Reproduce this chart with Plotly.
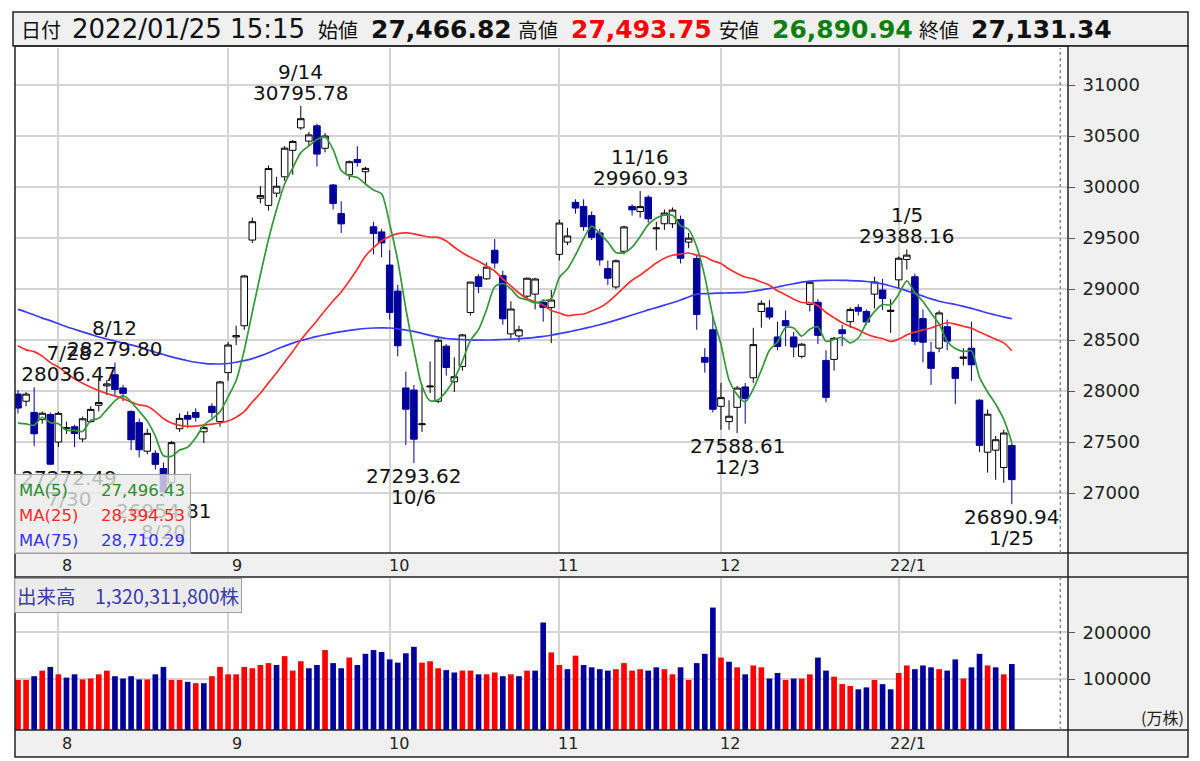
import plotly.graph_objects as go
import pandas as pd

# ---------------- data ----------------
dates = ["2021-07-26", "2021-07-27", "2021-07-28", "2021-07-29", "2021-07-30",
         "2021-08-02", "2021-08-03", "2021-08-04", "2021-08-05", "2021-08-06", "2021-08-10", "2021-08-11",
         "2021-08-12", "2021-08-13", "2021-08-16", "2021-08-17", "2021-08-18", "2021-08-19", "2021-08-20",
         "2021-08-23", "2021-08-24", "2021-08-25", "2021-08-26", "2021-08-27", "2021-08-30", "2021-08-31",
         "2021-09-01", "2021-09-02", "2021-09-03", "2021-09-06", "2021-09-07", "2021-09-08", "2021-09-09",
         "2021-09-10", "2021-09-13", "2021-09-14", "2021-09-15", "2021-09-16", "2021-09-17", "2021-09-21",
         "2021-09-22", "2021-09-24", "2021-09-27", "2021-09-28", "2021-09-29", "2021-09-30",
         "2021-10-01", "2021-10-04", "2021-10-05", "2021-10-06", "2021-10-07", "2021-10-08", "2021-10-11",
         "2021-10-12", "2021-10-13", "2021-10-14", "2021-10-15", "2021-10-18", "2021-10-19", "2021-10-20",
         "2021-10-21", "2021-10-22", "2021-10-25", "2021-10-26", "2021-10-27", "2021-10-28", "2021-10-29",
         "2021-11-01", "2021-11-02", "2021-11-04", "2021-11-05", "2021-11-08", "2021-11-09", "2021-11-10",
         "2021-11-11", "2021-11-12", "2021-11-15", "2021-11-16", "2021-11-17", "2021-11-18", "2021-11-19",
         "2021-11-22", "2021-11-24", "2021-11-25", "2021-11-26", "2021-11-29", "2021-11-30",
         "2021-12-01", "2021-12-02", "2021-12-03", "2021-12-06", "2021-12-07", "2021-12-08", "2021-12-09",
         "2021-12-10", "2021-12-13", "2021-12-14", "2021-12-15", "2021-12-16", "2021-12-17", "2021-12-20",
         "2021-12-21", "2021-12-22", "2021-12-23", "2021-12-24", "2021-12-27", "2021-12-28", "2021-12-29",
         "2021-12-30",
         "2022-01-04", "2022-01-05", "2022-01-06", "2022-01-07", "2022-01-11", "2022-01-12", "2022-01-13",
         "2022-01-14", "2022-01-17", "2022-01-18", "2022-01-19", "2022-01-20", "2022-01-21", "2022-01-24",
         "2022-01-25"]

opens = [27970, 27900, 27790, 27720, 27770,
         27500, 27630, 27650, 27530, 27700, 27860, 28050, 28160, 28030, 27800, 27690, 27410, 27390, 27240,
         27100, 27630, 27760, 27790, 27600, 27850, 27700,
         28180, 28530, 28640, 29480, 29890, 29820, 29940, 30100, 30360, 30580, 30450, 30600, 30380, 30020,
         29740, 30120, 30270, 30150, 29610, 29560,
         29235, 28980, 28030, 28010, 27670, 28040, 27900, 28440, 28090, 28240, 28770, 29120, 29100, 29380,
         29130, 28560, 28540, 28930, 28950, 28870, 28820,
         29340, 29460, 29850, 29810, 29720, 29550, 29200, 29020, 29370, 29810, 29760, 29900, 29590, 29640,
         29640, 29680, 29460, 29300, 28330, 28600,
         27850, 27700, 27840, 28040, 28130, 28780, 28815, 28530, 28690, 28530, 28340, 28850, 28870, 28300,
         28310, 28600, 28680, 28820, 28780, 28950, 28990, 28780,
         29090, 29290, 29120, 28710, 28380, 28420, 28630, 28230, 28320, 28420, 27910, 27400, 27420, 27250,
         27466.82]

highs = [28010, 27990, 28036.47, 27800, 27790,
         27800, 27700, 27670, 27750, 27850, 28130, 28110, 28279.80, 28060, 27810, 27730, 27630, 27420, 27300,
         27510, 27780, 27800, 27830, 27660, 27880, 28100,
         28480, 28640, 29140, 29700, 30010, 30210, 30100, 30400, 30460, 30795.78, 30540, 30620, 30530, 30030,
         29860, 30260, 30400, 30200, 29660, 29590,
         29380, 29040, 28190, 28060, 28060, 28290, 28520, 28460, 28330, 28560, 29070, 29145, 29260, 29490,
         29180, 28880, 28640, 29110, 29110, 28900, 28990,
         29680, 29600, 29880, 29880, 29760, 29590, 29280, 29290, 29620, 29830, 29960.93, 29920, 29660, 29780,
         29800, 29720, 29550, 29330, 28420, 28730,
         28080, 27910, 28050, 28080, 28620, 28890, 28890, 28680, 28790, 28580, 28470, 29070, 28900, 28400,
         28530, 28650, 28820, 28850, 28800, 29120, 29100, 28900,
         29320, 29388.16, 29150, 28800, 28480, 28790, 28700, 28240, 28420, 28680, 27920, 27820, 27560, 27620,
         27493.75]

lows = [27780, 27850, 27460, 27680, 27272.49,
        27450, 27580, 27450, 27500, 27690, 27800, 27960, 27960, 27900, 27420, 27350, 27380, 27230, 26954.81,
        27050, 27600, 27640, 27700, 27490, 27740, 27650,
        28100, 28450, 28600, 29450, 29840, 29770, 29900, 30060, 30120, 30560, 30400, 30200, 30340, 29780,
        29550, 30070, 30200, 30020, 29340, 29310,
        28700, 28340, 27470, 27293.62, 27600, 27980, 27880, 28150, 27990, 28200, 28740, 28960, 29090, 29200,
        28650, 28520, 28480, 28900, 28800, 28680, 28470,
        29280, 29430, 29740, 29570, 29480, 29230, 29040, 29000, 29340, 29720, 29700, 29650, 29380, 29580,
        29600, 29250, 29400, 28600, 28180, 27790,
        27620, 27620, 27588.61, 27680, 28080, 28620, 28700, 28400, 28440, 28330, 28320, 28780, 28460, 27890,
        28200, 28440, 28620, 28740, 28650, 28810, 28795, 28570,
        29000, 29190, 28450, 28280, 28060, 28380, 28400, 27870, 28250, 28100, 27400, 27200, 27130, 27100,
        26890.94]

closes = [27833, 27970, 27581, 27782, 27283,
          27781, 27641, 27584, 27728, 27820, 27888, 28070, 28015, 27977, 27523, 27424, 27585, 27281, 27013,
          27494, 27732, 27724, 27742, 27641, 27789, 28089,
          28451, 28543, 29128, 29660, 29916, 30181, 30008, 30381, 30447, 30670, 30511, 30323, 30500, 29839,
          29639, 30248, 30240, 30183, 29544, 29452,
          28771, 28444, 27822, 27528, 27678, 28048, 28498, 28230, 28140, 28550, 29068, 29025, 29215, 29255,
          28708, 28804, 28600, 29106, 29098, 28820, 28892,
          29647, 29520, 29794, 29611, 29507, 29285, 29106, 29277, 29609, 29776, 29808, 29688, 29598, 29745,
          29774, 29302, 29499, 28751, 28283, 27821,
          27935, 27753, 28029, 27927, 28455, 28860, 28725, 28437, 28640, 28432, 28459, 29066, 28545.68, 27937.81,
          28517.59, 28562.21, 28798.37, 28782.59, 28676.46, 29069.16, 28906.88, 28791.71,
          29301.79, 29332.16, 28487.87, 28478.56, 28222.48, 28765.66, 28489.13, 28124.28, 28333.52, 28257.25,
          27467.23, 27772.93, 27522.26, 27588.37, 27131.34]

# closes of the 24 sessions before the first visible day (needed for MA(5)/MA(25) and the first volume colour)
closes_before = [28964, 28010, 28884, 28874, 28875, 29066, 29048, 28812, 28792, 28707, 28783, 28598,
                 28643, 28366, 28118, 27940, 28569, 28718, 28608, 28279, 28003, 27652, 27388, 27548]

# MA(75)
ma75 = [28800, 28775, 28745, 28715, 28690,
        28660, 28630, 28605, 28580, 28555, 28530, 28510, 28490, 28470, 28452, 28430, 28405, 28380, 28358,
        28335, 28315, 28297, 28282, 28272, 28266, 28265,
        28270, 28282, 28298, 28318, 28345, 28375, 28410, 28440, 28470, 28495, 28515, 28535, 28552, 28568,
        28582, 28595, 28605, 28613, 28618, 28620,
        28618, 28610, 28598, 28585, 28565, 28545, 28528, 28515, 28508, 28503, 28500, 28500, 28500, 28502,
        28505, 28508, 28512, 28518, 28526, 28535, 28548,
        28562, 28578, 28594, 28612, 28630, 28650, 28672, 28695, 28720, 28745, 28770, 28795, 28818, 28842,
        28865, 28892, 28922, 28950, 28955, 28958,
        28960, 28962, 28964, 28968, 28978, 28992, 29005, 29020, 29037, 29052, 29067, 29078, 29083, 29085,
        29086, 29085, 29083, 29080, 29074, 29065, 29050, 29030,
        29008, 28982, 28957, 28930, 28903, 28880, 28863, 28848, 28830, 28810, 28788, 28765, 28745, 28725,
        28710.29]

# volume in 10,000 shares (万株)
volume = [98000, 98000, 106000, 118000, 126000,
          110000, 103000, 110000, 99000, 101000, 110000, 118000, 106000, 101000, 106000, 99000, 99000, 110000,
          126000, 98000, 98000, 94000, 91000, 91000, 106000, 126000,
          110000, 110000, 126000, 123000, 130000, 134000, 130000, 149000, 118000, 138000, 123000, 130000,
          162000, 134000, 123000, 146000, 130000, 154000, 162000, 158000,
          142000, 135000, 155000, 169000, 135000, 138000, 123000, 119000, 114000, 118000, 118000, 110000,
          110000, 114000, 106000, 110000, 106000, 118000, 118000, 221000, 157000,
          130000, 121000, 150000, 130000, 125000, 121000, 118000, 121000, 134000, 118000, 121000, 118000,
          125000, 121000, 110000, 125000, 98000, 134000, 154000, 253000,
          146000, 137000, 125000, 110000, 129000, 125000, 101000, 113000, 98000, 101000, 101000, 110000,
          146000, 118000, 105000, 89000, 85000, 78000, 82000, 98000, 89000, 78000,
          113000, 129000, 121000, 129000, 125000, 121000, 118000, 142000, 101000, 125000, 154000, 129000,
          125000, 110000, 132031.18]

price_ticks = [27000, 27500, 28000, 28500, 29000, 29500, 30000, 30500, 31000]
volume_ticks = [100000, 200000]
high_label_dates = ["2021-07-28", "2021-08-12", "2021-09-14", "2021-11-16", "2022-01-05"]
low_label_dates = ["2021-07-30", "2021-08-20", "2021-10-06", "2021-12-03", "2022-01-25"]
time_text = "15:15"

# ---------------- derived ----------------
n = len(dates)
idx = list(range(n))
all_closes = closes_before + closes
ser = pd.Series(all_closes, dtype=float)
ma5 = ser.rolling(5).mean().tolist()[-n:]
ma25 = ser.rolling(25).mean().tolist()[-n:]
prev_closes = all_closes[len(closes_before) - 1:-1]

NAVY = "#00009a"
RED = "#ff0000"
vol_colors = [RED if c > p else NAVY for c, p in zip(closes, prev_closes)]

# ---------------- layout geometry ----------------
W, H = 1200, 761
PL, PR, RIGHT = 15, 1068, 1188
P_TOP, P_BOT = 48, 553
V_TOP, V_BOT = 578, 730
X_MIN, X_MAX = -0.37, 129.95
Y_RANGE = [26412, 31363]
V_RANGE = [-9200, 316300]
GRID = "#d4d4d4"
PANEL = "#f0f0f0"


def fx(p):
    return p / W


def fy(p):
    return 1 - p / H


fig = go.Figure()

fig.add_trace(go.Candlestick(
    x=idx, open=opens, high=highs, low=lows, close=closes,
    increasing=dict(line=dict(color="black", width=1), fillcolor="white"),
    decreasing=dict(line=dict(color=NAVY, width=1), fillcolor=NAVY),
    whiskerwidth=0, xaxis="x", yaxis="y", showlegend=False, hoverinfo="skip"))

for vals, col in ((ma75, "#3b3bff"), (ma25, "#ff3030"), (ma5, "#35963a")):
    fig.add_trace(go.Scatter(x=idx, y=vals, mode="lines",
                             line=dict(color=col, width=1.7, shape="spline", smoothing=0.7),
                             xaxis="x", yaxis="y", showlegend=False, hoverinfo="skip"))

fig.add_trace(go.Bar(x=idx, y=[v - V_RANGE[0] for v in volume], base=V_RANGE[0],
                     marker=dict(color=vol_colors, line=dict(width=0)), width=0.7,
                     xaxis="x2", yaxis="y2", showlegend=False, hoverinfo="skip"))

month_idx = [i for i in range(1, n) if dates[i][5:7] != dates[i - 1][5:7]]


def month_text(d):
    m = int(d[5:7])
    return f"{d[2:4]}/{m}" if m == 1 else str(m)


axis_font = dict(family="DejaVu Sans", size=18, color="#222")
common_x = dict(range=[X_MIN, X_MAX], tickvals=month_idx, showticklabels=False, showgrid=True,
                gridcolor=GRID, gridwidth=1.5, zeroline=False, ticks="", showline=False)

fig.update_layout(
    width=W, height=H, margin=dict(l=0, r=0, t=0, b=0),
    paper_bgcolor="white", plot_bgcolor="white", showlegend=False,
    boxgap=0.1, boxgroupgap=0.1,
    xaxis=dict(domain=[fx(PL), fx(PR)], anchor="y", rangeslider=dict(visible=False), **common_x),
    xaxis2=dict(domain=[fx(PL), fx(PR)], anchor="y2", matches="x", **common_x),
    yaxis=dict(domain=[fy(P_BOT), fy(P_TOP)], range=Y_RANGE, side="right", anchor="x",
               tickvals=price_ticks, ticktext=[str(t) for t in price_ticks], showgrid=True,
               gridcolor=GRID, gridwidth=1.5, zeroline=False, ticks="outside", ticklen=6,
               tickcolor="#555", tickfont=axis_font, ticklabelstandoff=4, showline=False),
    yaxis2=dict(domain=[fy(V_BOT), fy(V_TOP)], range=V_RANGE, side="right", anchor="x2",
                tickvals=volume_ticks, ticktext=[str(t) for t in volume_ticks], showgrid=True,
                gridcolor=GRID, gridwidth=1.5, zeroline=False, ticks="outside", ticklen=6,
                tickcolor="#555", tickfont=axis_font, ticklabelstandoff=4, showline=False),
)

# ---------------- frame shapes ----------------
LINE = dict(color="#222", width=1.5)
shapes = [
    dict(type="rect", xref="paper", yref="paper", x0=fx(13), x1=fx(RIGHT), y0=fy(46), y1=fy(12),
         fillcolor=PANEL, line=LINE, layer="below"),
    dict(type="rect", xref="paper", yref="paper", x0=fx(PR), x1=fx(RIGHT), y0=fy(P_BOT), y1=fy(46),
         fillcolor=PANEL, line=dict(width=0), layer="below"),
    dict(type="rect", xref="paper", yref="paper", x0=fx(PR), x1=fx(RIGHT), y0=fy(V_BOT), y1=fy(577),
         fillcolor=PANEL, line=dict(width=0), layer="below"),
    dict(type="rect", xref="paper", yref="paper", x0=fx(PL), x1=fx(RIGHT), y0=fy(577), y1=fy(P_BOT),
         fillcolor=PANEL, line=dict(width=0), layer="below"),
    dict(type="rect", xref="paper", yref="paper", x0=fx(PL), x1=fx(RIGHT), y0=fy(757), y1=fy(V_BOT),
         fillcolor=PANEL, line=dict(width=0), layer="below"),
    dict(type="rect", xref="paper", yref="paper", x0=fx(PL), x1=fx(RIGHT), y0=fy(757), y1=fy(46),
         fillcolor="rgba(0,0,0,0)", line=LINE, layer="above"),
    dict(type="line", xref="paper", yref="paper", x0=fx(PR), x1=fx(PR), y0=fy(757), y1=fy(46),
         line=LINE, layer="above"),
]
for yy in (P_BOT, 577, V_BOT):
    shapes.append(dict(type="line", xref="paper", yref="paper", x0=fx(PL), x1=fx(RIGHT),
                       y0=fy(yy), y1=fy(yy), line=LINE, layer="above"))
future = n + 5
for xr, yr in (("x", "y domain"), ("x2", "y2 domain")):
    shapes.append(dict(type="line", xref=xr, yref=yr, x0=future, x1=future, y0=0, y1=1,
                       line=dict(color="#8a8a8a", width=1.5, dash="dot"), layer="above"))
fig.update_layout(shapes=shapes)

# ---------------- annotations ----------------
ann = []
mfont = dict(family="DejaVu Sans", size=16, color="#222")
for i in month_idx:
    for ycen in (565, 743):
        ann.append(dict(x=i, xref="x", y=fy(ycen), yref="paper", text=month_text(dates[i]),
                        showarrow=False, xanchor="center", yanchor="middle", xshift=9, font=mfont))

LBL_FONT = dict(family="DejaVu Sans", size=20, color="#111")


def add_extreme(date_str, value, above):
    i = dates.index(date_str)
    mm, dd = int(date_str[5:7]), int(date_str[8:10])
    s = 1 if above else -1
    lines = [(f"{mm}/{dd}", 34 * s), (f"{value:.2f}", 13 * s)]
    px = PL + (i - X_MIN) / (X_MAX - X_MIN) * (PR - PL)
    clamp = px - 52 < PL
    for txt, sh in lines:
        a = dict(text=txt, y=value, yref="y", yshift=sh, showarrow=False, font=LBL_FONT,
                 yanchor="middle")
        if clamp:
            a.update(x=fx(PL), xref="paper", xanchor="left", width=104, align="center")
        else:
            a.update(x=i, xref="x", xanchor="center")
        ann.append(a)


for d in high_label_dates:
    add_extreme(d, highs[dates.index(d)], True)
for d in low_label_dates:
    add_extreme(d, lows[dates.index(d)], False)

# MA legend box (semi-transparent, drawn over the labels)
ann.append(dict(x=fx(14), y=fy(474), xref="paper", yref="paper", xanchor="left", yanchor="top",
                text=" ", width=175, height=78, showarrow=False, bgcolor="rgba(234,234,234,0.78)",
                bordercolor="#a0a0a0", borderwidth=1, borderpad=0))
leg_font = "DejaVu Sans"
legend_rows = [("MA(5)", ma5[-1], "#2e8b2e"), ("MA(25)", ma25[-1], "#ff2a2a"), ("MA(75)", ma75[-1], "#3333ff")]
for k, (name, val, col) in enumerate(legend_rows):
    yy = fy(490 + 25 * k)
    ann.append(dict(x=fx(17), y=yy, xref="paper", yref="paper", xanchor="left", yanchor="middle",
                    text=name, showarrow=False, font=dict(family=leg_font, size=16.5, color=col)))
    ann.append(dict(x=fx(187), y=yy, xref="paper", yref="paper", xanchor="right", yanchor="middle",
                    text=f"{val:,.2f}", showarrow=False, font=dict(family=leg_font, size=16.5, color=col)))

# volume label box
ann.append(dict(x=fx(14), y=fy(578), xref="paper", yref="paper", xanchor="left", yanchor="top",
                text=f"出来高　{volume[-1] * 10000:,.0f}株", showarrow=False,
                bgcolor="rgba(234,234,234,0.9)", bordercolor="#a0a0a0", borderwidth=1, borderpad=2,
                font=dict(family="Noto Sans CJK JP", size=19.5, color="#3a3aa8")))
ann.append(dict(x=fx(1186), y=fy(717), xref="paper", yref="paper", xanchor="right", yanchor="middle",
                text="(万株)", showarrow=False, font=dict(family="Noto Sans CJK JP", size=16, color="#222")))

# header
last = n - 1
d = dates[last]
header = [
    ("日付", 19, dict(family="Noto Sans CJK JP", size=20, color="#111")),
    (f"{d[0:4]}/{d[5:7]}/{d[8:10]} {time_text}", 70, dict(family="DejaVu Sans", size=26, color="#111")),
    ("始値", 316, dict(family="Noto Sans CJK JP", size=20, color="#111")),
    (f"<b>{opens[last]:,.2f}</b>", 369, dict(family="DejaVu Sans", size=25, color="#111")),
    ("高値", 516, dict(family="Noto Sans CJK JP", size=20, color="#111")),
    (f"<b>{highs[last]:,.2f}</b>", 569, dict(family="DejaVu Sans", size=25, color="#ff0000")),
    ("安値", 717, dict(family="Noto Sans CJK JP", size=20, color="#111")),
    (f"<b>{lows[last]:,.2f}</b>", 770, dict(family="DejaVu Sans", size=25, color="#0a800a")),
    ("終値", 917, dict(family="Noto Sans CJK JP", size=20, color="#111")),
    (f"<b>{closes[last]:,.2f}</b>", 969, dict(family="DejaVu Sans", size=25, color="#111")),
]
for txt, xl, f in header:
    ann.append(dict(x=fx(xl), y=fy(29), xref="paper", yref="paper", xanchor="left", yanchor="middle",
                    text=txt, showarrow=False, font=f))

fig.update_layout(annotations=ann)

fig.write_html("out.html", config={"displayModeBar": False},
               post_script="document.body.style.margin='0';document.body.style.overflow='hidden';")
